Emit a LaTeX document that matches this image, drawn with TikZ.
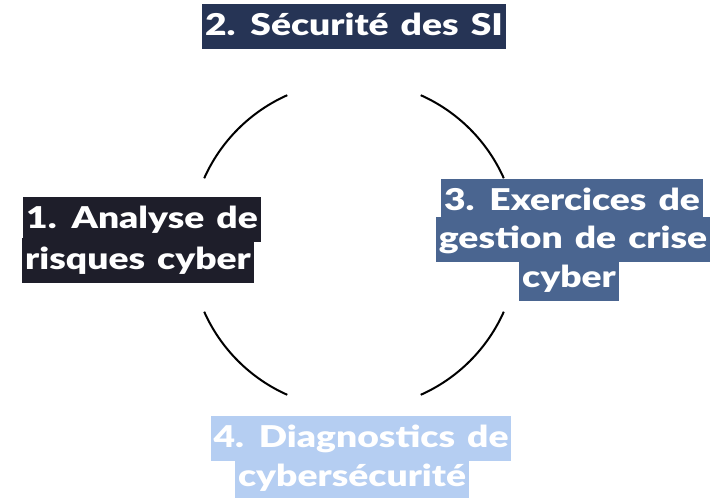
\documentclass[tikz,border=0pt]{standalone}
\usepackage{fontspec}
\newfontfamily\labfont{Lato Black}[FakeStretch=1.24, WordSpace=1.4]
\definecolor{cTop}{HTML}{263455}
\definecolor{cOne}{HTML}{1E1E2A}
\definecolor{cThree}{HTML}{4A6590}
\definecolor{cFour}{HTML}{B5CEF2}
\tikzset{
  hl/.style={fill=#1, text=white, anchor=base, inner xsep=3pt, inner ysep=0pt,
    text height=32pt, text depth=13pt,
    font=\labfont\fontsize{30}{36}\selectfont},
  ring/.style={line width=2pt, black}
}
\begin{document}
\begin{tikzpicture}[x=1pt,y=1pt]
\useasboundingbox (0,0) rectangle (718,498);
\coordinate (C) at (354,253);
\foreach \a in {114,24,204,294}{
  \draw[ring] (C) ++(\a:164) arc[start angle=\a, end angle=\a+42, radius=164];
}
\node[hl=cTop] (t2) at (354,462) {2. Sécurité des SI};
\node[hl=cOne] (t1a) at (142,269) {1. Analyse de};
\node[hl=cOne] (t1b) at (138,228) {risques cyber};
\node[hl=cThree] (t3a) at (572,287) {3. Exercices de};
\node[hl=cThree] (t3b) at (573,249) {gestion de crise\ };
\node[hl=cThree] (t3c) at (569,210) {cyber};
\node[hl=cFour] (t4a) at (361,50) {4. Diagnostics de\ };
\node[hl=cFour] (t4b) at (352,11) {cybersécurité};
\end{tikzpicture}
\end{document}
